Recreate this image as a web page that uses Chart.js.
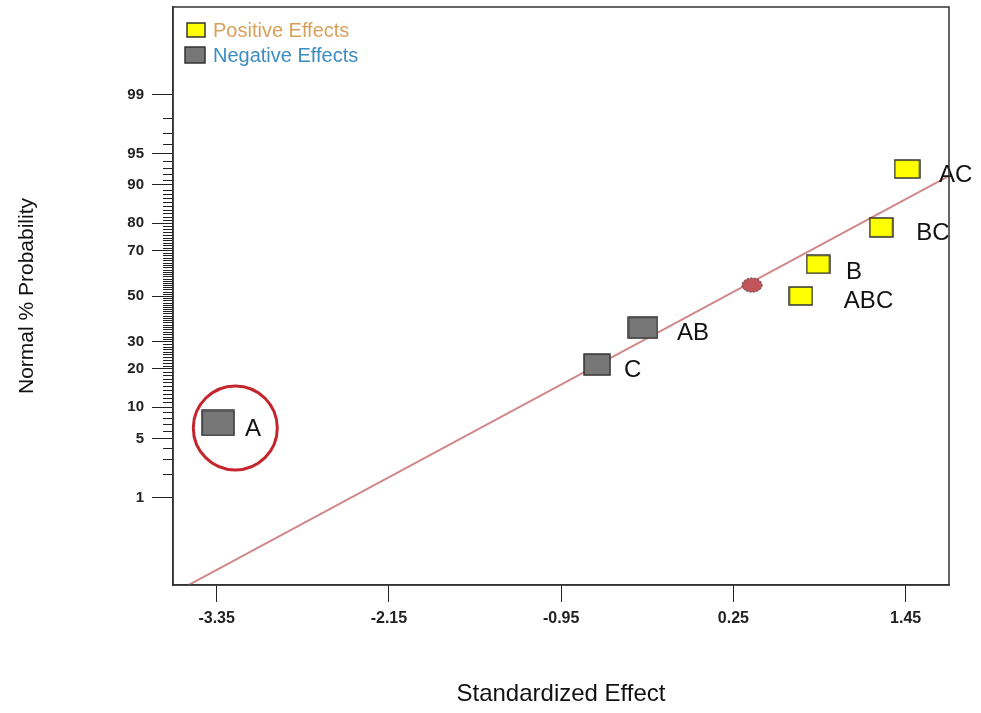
<!DOCTYPE html>
<html>
<head>
<meta charset="utf-8">
<script src="https://cdn.jsdelivr.net/npm/chart.js@4.4.1/dist/chart.umd.min.js"></script>
<style>
  html, body { margin: 0; padding: 0; background: #fff; }
  #wrap { width: 981px; height: 713px; position: relative; }
</style>
</head>
<body>
<div id="wrap"><canvas id="chart"></canvas></div>
<script>
// Effects
const effectNames = ["A", "C", "AB", "ABC", "B", "BC", "AC"];
const effectValues = [-3.34, -0.70, -0.38, 0.72, 0.84, 1.28, 1.46];
const effectProbs = [7.14, 21.43, 35.71, 50, 64.29, 78.57, 92.86];

// Reference line and its centre marker
const lineEffects = [-3.55, 1.752];
const lineProbs = [0.042, 91.7];
const centerEffect = [0.38];
const centerProb = [55];

// Ring drawn around A
const ringEffect = [-3.22];
const ringProb = [6.4];

// Axis ticks
const xTicks = [-3.35, -2.15, -0.95, 0.25, 1.45];
const yTickProbs = [1, 5, 10, 20, 30, 50, 70, 80, 90, 95, 99];

// per-point box sizes and label offsets (px)
const boxSize = { A: [32, 25], C: [26, 21], AB: [29, 21], ABC: [23, 18], B: [23, 18], BC: [23, 19], AC: [25, 18] };
const labelOffset = { A: [27, 5], C: [27, 4], AB: [34, 3.5], ABC: [43, 3.5], B: [28, 6], BC: [35, 4], AC: [32, 4] };

const FONT = "'Liberation Sans', Arial, sans-serif";

// inverse normal cdf (Acklam), percent -> z
function probit(pct) {
  const p = pct / 100;
  const a = [-39.69683028665376, 220.9460984245205, -275.9285104469687, 138.3577518672690, -30.66479806614716, 2.506628277459239];
  const b = [-54.47609879822406, 161.5858368580409, -155.6989798598866, 66.80131188771972, -13.28068155288572];
  const c = [-0.007784894002430293, -0.3223964580411365, -2.400758277161838, -2.549732539343734, 4.374664141464968, 2.938163982698783];
  const d = [0.007784695709041462, 0.3224671290700398, 2.445134137142996, 3.754408661907416];
  const plow = 0.02425;
  let q, r;
  if (p < plow) {
    q = Math.sqrt(-2 * Math.log(p));
    return (((((c[0]*q+c[1])*q+c[2])*q+c[3])*q+c[4])*q+c[5]) / ((((d[0]*q+d[1])*q+d[2])*q+d[3])*q+1);
  }
  if (p > 1 - plow) {
    q = Math.sqrt(-2 * Math.log(1 - p));
    return -(((((c[0]*q+c[1])*q+c[2])*q+c[3])*q+c[4])*q+c[5]) / ((((d[0]*q+d[1])*q+d[2])*q+d[3])*q+1);
  }
  q = p - 0.5; r = q * q;
  return (((((a[0]*r+a[1])*r+a[2])*r+a[3])*r+a[4])*r+a[5])*q / (((((b[0]*r+b[1])*r+b[2])*r+b[3])*r+b[4])*r+1);
}

// little canvases used as point styles
const boxCache = {};
function boxImage(name, fill) {
  if (boxCache[name]) return boxCache[name];
  const [w, h] = boxSize[name];
  const c = document.createElement("canvas");
  c.width = w + 2; c.height = h + 2;
  const g = c.getContext("2d");
  g.fillStyle = fill;
  g.fillRect(1, 1, w, h);
  g.strokeStyle = "#333";
  g.lineWidth = 1.5;
  g.strokeRect(1, 1, w, h);
  boxCache[name] = c;
  return c;
}
function ellipseImage() {
  const c = document.createElement("canvas");
  c.width = 22; c.height = 16;
  const g = c.getContext("2d");
  g.beginPath();
  g.ellipse(11, 8, 10, 7, 0, 0, Math.PI * 2);
  g.fillStyle = "#c2545c";
  g.fill();
  g.setLineDash([2, 1.5]);
  g.strokeStyle = "#3a2a2a";
  g.lineWidth = 1;
  g.stroke();
  return c;
}

const posPts = [], negPts = [];
effectNames.forEach((n, i) => {
  const pt = { x: effectValues[i], y: probit(effectProbs[i]), name: n };
  (effectValues[i] >= 0 ? posPts : negPts).push(pt);
});

const minorProbs = [];
for (let p = 2; p <= 98; p++) if (!yTickProbs.includes(p)) minorProbs.push(p);

const minorTicks = {
  id: "minorTicks",
  afterDraw(chart) {
    const { ctx, scales: { y }, chartArea } = chart;
    ctx.save();
    ctx.strokeStyle = "#222";
    ctx.lineWidth = 1;
    minorProbs.forEach((p) => {
      const py = Math.round(y.getPixelForValue(probit(p))) + 0.5;
      ctx.beginPath();
      ctx.moveTo(chartArea.left - 10, py);
      ctx.lineTo(chartArea.left, py);
      ctx.stroke();
    });
    ctx.restore();
  },
};

const frame = {
  id: "frame",
  afterDraw(chart) {
    const { ctx, chartArea: a } = chart;
    ctx.save();
    ctx.strokeStyle = "#333";
    ctx.lineWidth = 1.5;
    ctx.strokeRect(a.left, a.top, a.right - a.left, a.bottom - a.top);
    ctx.restore();
  },
};

const pointLabels = {
  id: "pointLabels",
  afterDatasetsDraw(chart) {
    const { ctx } = chart;
    ctx.save();
    ctx.font = "24px " + FONT;
    ctx.fillStyle = "#111";
    ctx.textAlign = "left";
    ctx.textBaseline = "alphabetic";
    [0, 1].forEach((di) => {
      const meta = chart.getDatasetMeta(di);
      meta.data.forEach((el, i) => {
        const name = chart.data.datasets[di].data[i].name;
        const [dx, dy] = labelOffset[name];
        ctx.fillText(name, el.x + dx, el.y + dy + 8.5);
      });
    });
    ctx.restore();
  },
};

const effectLegend = {
  id: "effectLegend",
  afterDraw(chart) {
    const { ctx, chartArea: a } = chart;
    const items = [
      { ds: chart.data.datasets[0], box: [14, 16, 18, 14], base: 30, color: "#d9a05b" },
      { ds: chart.data.datasets[1], box: [12, 40, 20, 16], base: 55, color: "#3b8cc0" },
    ];
    ctx.save();
    ctx.font = "20px " + FONT;
    items.forEach((it) => {
      const [bx, by, bw, bh] = it.box;
      ctx.fillStyle = it.ds.legendFill;
      ctx.fillRect(a.left + bx, a.top + by, bw, bh);
      ctx.strokeStyle = "#333";
      ctx.lineWidth = 1.5;
      ctx.strokeRect(a.left + bx, a.top + by, bw, bh);
      ctx.fillStyle = it.color;
      ctx.fillText(it.ds.label, a.left + 40, a.top + it.base);
    });
    ctx.restore();
  },
};

new Chart(document.getElementById("chart"), {
  type: "scatter",
  data: {
    datasets: [
      {
        label: "Positive Effects",
        legendFill: "#ffff00",
        data: posPts,
        pointStyle: (c) => boxImage(c.raw.name, "#ffff00"),
        order: 1,
      },
      {
        label: "Negative Effects",
        legendFill: "#777777",
        data: negPts,
        pointStyle: (c) => boxImage(c.raw.name, "#777777"),
        order: 1,
      },
      {
        label: "centre",
        data: centerEffect.map((x, i) => ({ x, y: probit(centerProb[i]) })),
        pointStyle: ellipseImage(),
        order: 2,
      },
      {
        label: "ring",
        data: ringEffect.map((x, i) => ({ x, y: probit(ringProb[i]) })),
        pointStyle: "circle",
        pointRadius: 42,
        backgroundColor: "rgba(0,0,0,0)",
        borderColor: "#c4262e",
        borderWidth: 3,
        order: 2,
      },
      {
        label: "fit",
        data: lineEffects.map((x, i) => ({ x, y: probit(lineProbs[i]) })),
        showLine: true,
        pointRadius: 0,
        borderColor: "#d08888",
        borderWidth: 2,
        order: 3,
      },
    ],
  },
  options: {
    responsive: true,
    maintainAspectRatio: false,
    animation: false,
    events: [],
    layout: { autoPadding: false, padding: { top: 7, right: 32, left: 0, bottom: 0 } },
    plugins: { legend: { display: false }, tooltip: { enabled: false } },
    scales: {
      x: {
        type: "linear",
        min: -3.654,
        max: 1.752,
        afterBuildTicks: (s) => { s.ticks = xTicks.map((v) => ({ value: v })); },
        afterFit: (s) => { s.height = 128; s.paddingLeft = 0; s.paddingRight = 0; },
        grid: { drawOnChartArea: false, tickLength: 17, color: "#222" },
        border: { color: "#333", width: 1.5 },
        ticks: {
          color: "#222",
          font: { family: FONT, size: 16, weight: "bold" },
          padding: 7,
          maxRotation: 0,
          autoSkip: false,
          callback: (v) => v.toFixed(2),
        },
        title: {
          display: true,
          text: "Standardized Effect",
          color: "#111",
          font: { family: FONT, size: 24 },
          padding: { top: 0, bottom: 4 },
        },
      },
      y: {
        type: "linear",
        min: -3.335,
        max: 3.335,
        afterBuildTicks: (s) => { s.ticks = yTickProbs.map((p) => ({ value: probit(p) })); },
        afterFit: (s) => { s.width = 173; s.paddingTop = 0; s.paddingBottom = 0; },
        grid: { drawOnChartArea: false, tickLength: 21, color: "#222" },
        border: { color: "#333", width: 1.5 },
        ticks: {
          color: "#222",
          font: { family: FONT, size: 15, weight: "bold" },
          padding: 8,
          autoSkip: false,
          callback: (v, i) => String(yTickProbs[i]),
        },
        title: {
          display: true,
          text: "Normal % Probability",
          color: "#111",
          font: { family: FONT, size: 21 },
          padding: { top: 15, bottom: 0 },
        },
      },
    },
  },
  plugins: [minorTicks, frame, pointLabels, effectLegend],
});
</script>
</body>
</html>
